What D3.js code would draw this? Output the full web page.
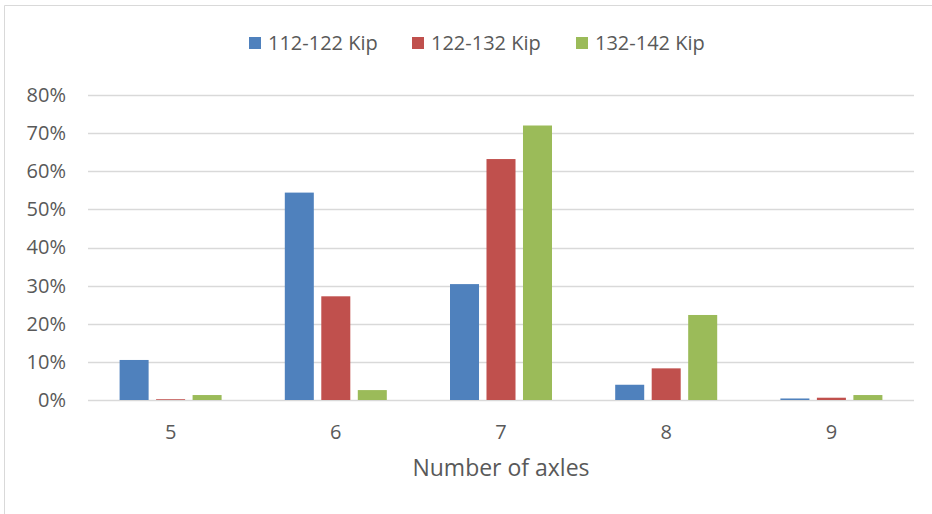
<!DOCTYPE html>
<html><head><meta charset="utf-8">
<script src="https://cdn.jsdelivr.net/npm/d3@7"></script>
<style>body{margin:0;background:#fff;} text{font-family:"Open Sans","Noto Sans",sans-serif;fill:#595959;}</style>
</head><body>
<svg id="c" width="932" height="514"></svg>
<script>
const categories = ["5","6","7","8","9"];
const seriesNames = ["112-122 Kip","122-132 Kip","132-142 Kip"];
const s112 = [0.105, 0.544, 0.304, 0.040, 0.004];
const s122 = [0.002, 0.272, 0.632, 0.083, 0.006];
const s132 = [0.013, 0.026, 0.720, 0.223, 0.013];
const yTicks = [0,0.1,0.2,0.3,0.4,0.5,0.6,0.7,0.8];
const colors = ["#4F81BD","#C0504D","#9BBB59"];
const seriesValues = [s112, s122, s132];

const svg = d3.select("#c");
// frame (top and left borders)
svg.append("line").attr("x1",4.5).attr("x2",932).attr("y1",5.5).attr("y2",5.5).attr("stroke","#D9D9D9");
svg.append("line").attr("x1",4.5).attr("x2",4.5).attr("y1",5.5).attr("y2",514).attr("stroke","#D9D9D9");

const pLeft=88, pRight=914, pTop=95, pBottom=400;
const x0 = d3.scaleBand().domain(categories).range([pLeft,pRight]).padding(0);
const groupW = 102;
const x1 = d3.scaleBand().domain(seriesNames)
  .range([(x0.bandwidth()-groupW)/2,(x0.bandwidth()+groupW)/2]).paddingInner(0.205).paddingOuter(0);
const y = d3.scaleLinear().domain([0,0.8]).range([pBottom,pTop]);

// gridlines
svg.append("g").selectAll("line").data(yTicks).join("line")
  .attr("x1",pLeft).attr("x2",pRight)
  .attr("y1",d=>Math.round(y(d))+0.5).attr("y2",d=>Math.round(y(d))+0.5)
  .attr("stroke","#D9D9D9").attr("stroke-width",1.5);

// y axis labels
const yAxis = d3.axisLeft(y).tickValues(yTicks).tickFormat(d3.format(".0%")).tickSize(0).tickPadding(22);
const ya = svg.append("g").attr("transform",`translate(${pLeft},0)`).call(yAxis);
ya.select(".domain").remove();
ya.selectAll("text").style("font-size","20px").attr("fill","#595959").attr("font-family","Open Sans, sans-serif");

// bars
const groups = svg.append("g").selectAll("g").data(categories).join("g")
  .attr("transform",d=>`translate(${x0(d)},0)`);
groups.selectAll("rect").data((d,i)=>seriesNames.map((s,j)=>({s, v:seriesValues[j][i], c:colors[j]})))
  .join("rect")
  .attr("x",d=>x1(d.s)).attr("width",x1.bandwidth())
  .attr("y",d=>y(d.v)).attr("height",d=>Math.max(0,pBottom-y(d.v)))
  .attr("fill",d=>d.c);

// x axis labels
const xAxis = d3.axisBottom(x0).tickSize(0).tickPadding(25);
const xa = svg.append("g").attr("transform",`translate(0,${pBottom})`).call(xAxis);
xa.select(".domain").remove();
xa.selectAll("text").style("font-size","20px").attr("fill","#595959").attr("font-family","Open Sans, sans-serif");

// axis title
svg.append("text").attr("x",(pLeft+pRight)/2).attr("y",476).attr("text-anchor","middle")
  .style("font-size","23px").text("Number of axles");

// legend
const legendX = [249, 412, 576];
const lg = svg.append("g").selectAll("g").data(seriesNames).join("g")
  .attr("transform",(d,i)=>`translate(${legendX[i]},37)`);
lg.append("rect").attr("width",12).attr("height",12).attr("fill",(d,i)=>colors[i]);
lg.append("text").attr("x",19).attr("y",13).style("font-size","20px").text(d=>d);
</script>
</body></html>
